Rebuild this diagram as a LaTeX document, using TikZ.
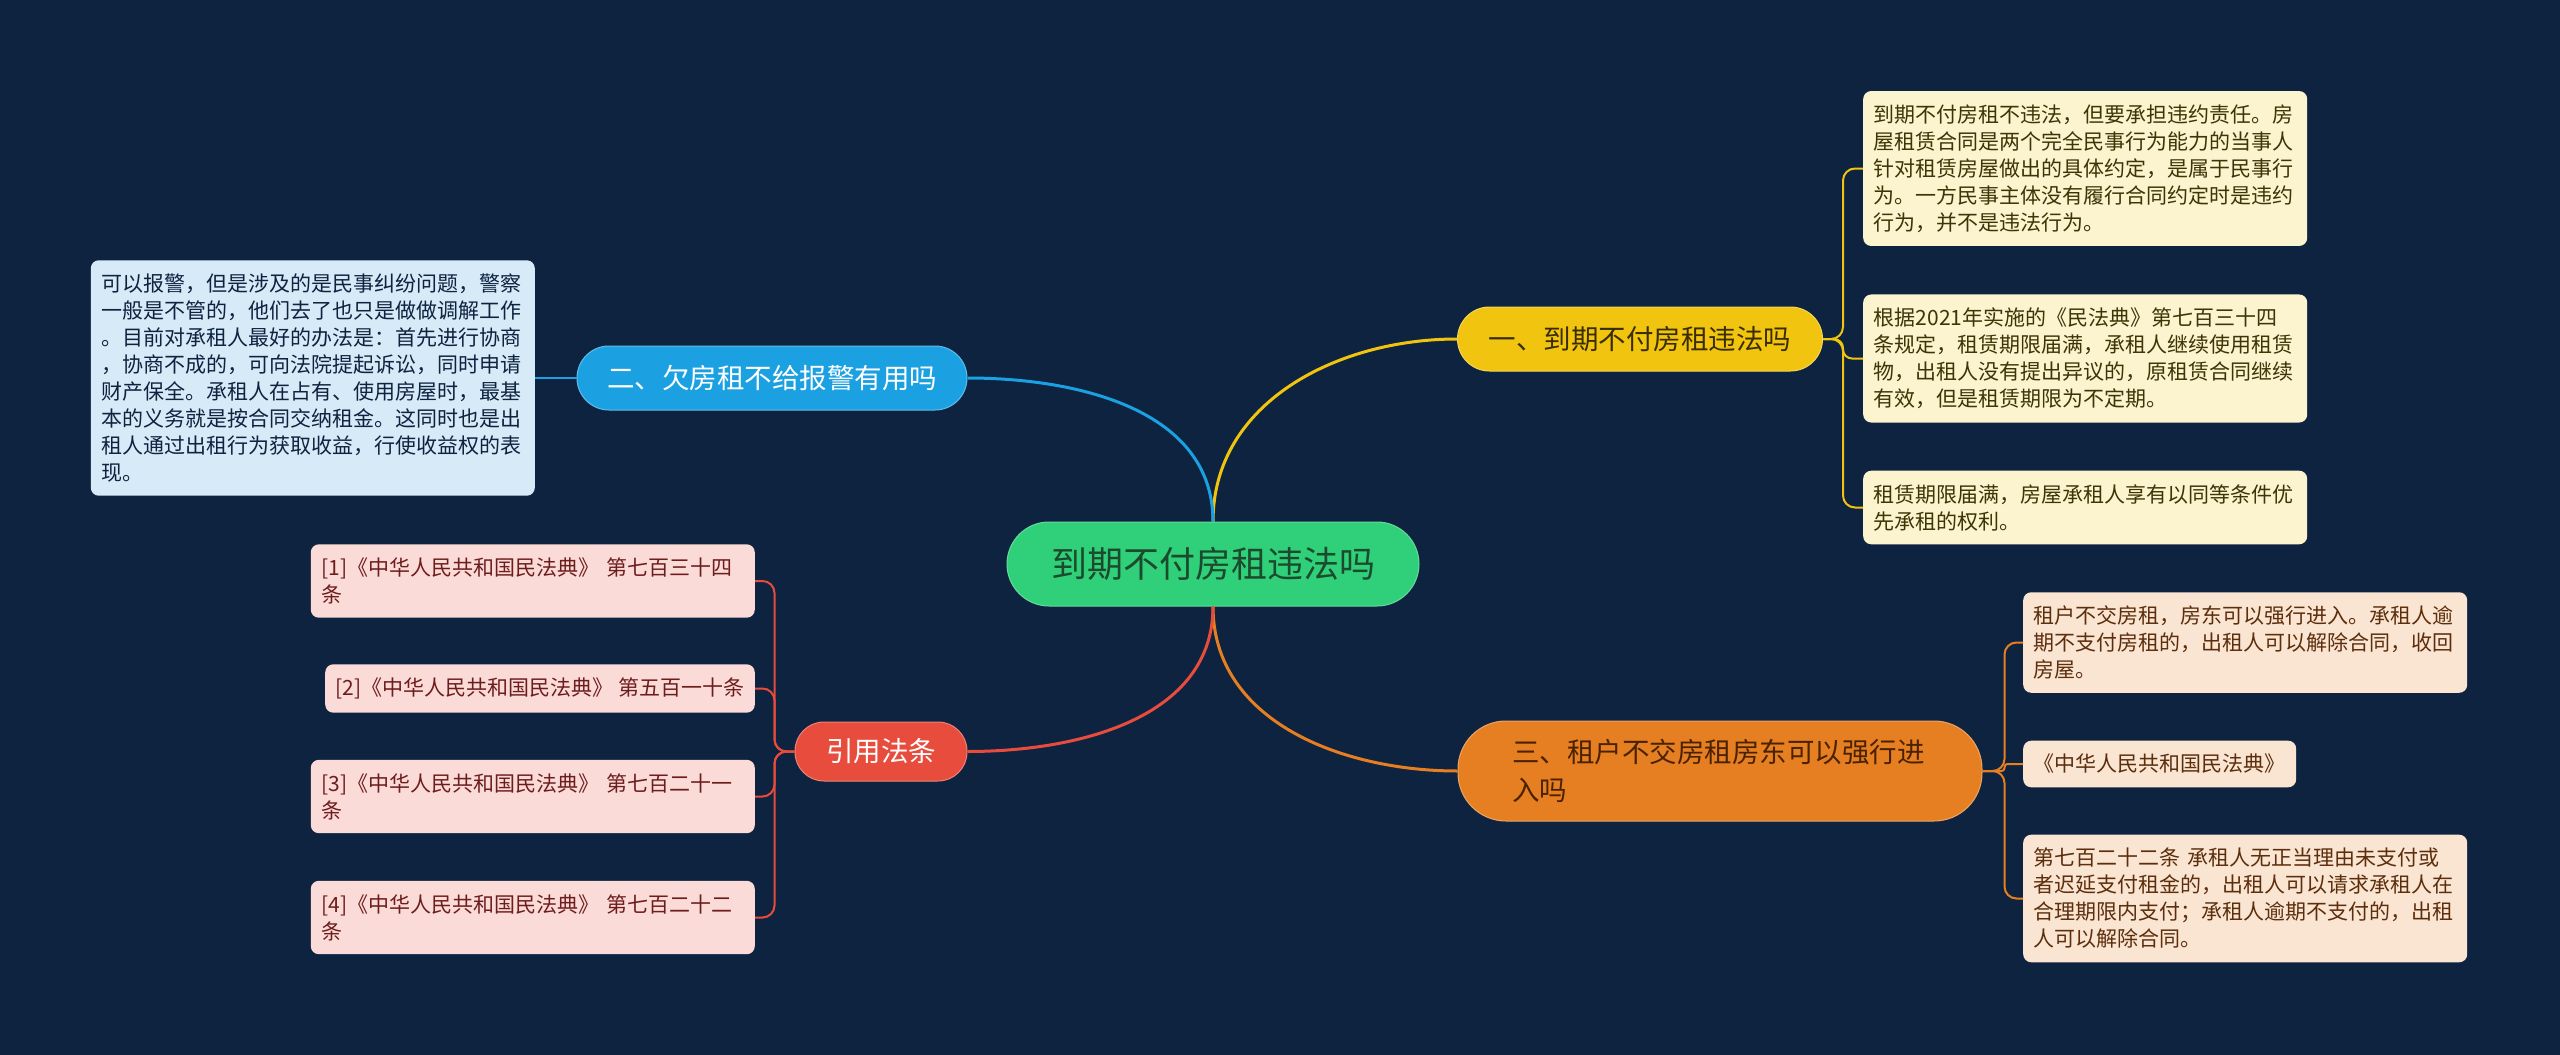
\documentclass[tikz,border=0pt]{standalone}
\usepackage{fontspec}
\setmainfont{Noto Sans CJK SC}
\usetikzlibrary{positioning}
\definecolor{bgnavy}{HTML}{0E2340}
\definecolor{rootgreen}{HTML}{30D07A}
\definecolor{rootink}{HTML}{1B4A2C}
\definecolor{ylw}{HTML}{F1C40F}
\definecolor{ylwink}{HTML}{3A2E00}
\definecolor{ylwpale}{HTML}{FCF3CF}
\definecolor{ylwtext}{HTML}{3D3505}
\definecolor{blu}{HTML}{1BA1E2}
\definecolor{blupale}{HTML}{D6EAF8}
\definecolor{blutext}{HTML}{0E2340}
\definecolor{rd}{HTML}{E74C3C}
\definecolor{rdpale}{HTML}{FADBD8}
\definecolor{rdtext}{HTML}{6E1D1D}
\definecolor{org}{HTML}{E67E22}
\definecolor{orgink}{HTML}{4A2200}
\definecolor{orgpale}{HTML}{FAE5D3}
\definecolor{orgtext}{HTML}{5C2E0C}

\begin{document}
\begin{tikzpicture}[x=1pt,y=-1pt,
  root/.style={fill=rootgreen,draw=rootgreen!75!white,line width=1pt,
    rounded corners=42pt,minimum width=412pt,minimum height=84pt,
    text=rootink,font=\fontsize{36}{44}\selectfont},
  branch/.style={line width=1pt,rounded corners=32pt,minimum height=64pt,
    font=\fontsize{27.5}{38}\selectfont},
  leaf/.style={rounded corners=8pt,align=left,inner xsep=10.5pt,
    inner ysep=13.5pt,font=\fontsize{21}{27}\selectfont},
  wrap/.style={text width=423pt},
  trunk/.style={line width=3pt},
  twig/.style={line width=2pt,rounded corners=12pt}]
\useasboundingbox (0,0) rectangle (2560,1055);
\fill[bgnavy] (0,0) rectangle (2560,1055);
% centre and main branches
\node[root] (c) at (1213,564) {到期不付房租违法吗};
\node[branch,fill=ylw,draw=ylw!70!white,text=ylwink,minimum width=365pt]
  (b1) at (1640,339) {一、到期不付房租违法吗};
\node[branch,fill=blu,draw=blu!70!white,text=white,minimum width=390pt]
  (b2) at (772,378) {二、欠房租不给报警有用吗};
\node[branch,fill=org,draw=org!70!white,text=orgink,minimum width=524pt,
  minimum height=100pt,rounded corners=48pt,text width=416pt,align=left]
  (b3) at (1720,771) {三、租户不交房租房东可以强行进\\入吗};
\node[branch,fill=rd,draw=rd!70!white,text=white,minimum width=172pt,
  minimum height=59pt,rounded corners=29pt]
  (b4) at (881,751.5) {引用法条};
% leaves of branch one
\node[leaf,wrap,fill=ylwpale,text=ylwtext,anchor=west] (y1) at (1863,168.5)
  {到期不付房租不违法，但要承担违约责任。房\\
   屋租赁合同是两个完全民事行为能力的当事人\\
   针对租赁房屋做出的具体约定，是属于民事行\\
   为。一方民事主体没有履行合同约定时是违约\\
   行为，并不是违法行为。};
\node[leaf,wrap,fill=ylwpale,text=ylwtext,anchor=west] (y2) at (1863,358.5)
  {根据2021年实施的《民法典》第七百三十四\\
   条规定，租赁期限届满，承租人继续使用租赁\\
   物，出租人没有提出异议的，原租赁合同继续\\
   有效，但是租赁期限为不定期。};
\node[leaf,wrap,fill=ylwpale,text=ylwtext,anchor=west] (y3) at (1863,507.5)
  {租赁期限届满，房屋承租人享有以同等条件优\\
   先承租的权利。};
% leaf of branch two
\node[leaf,wrap,fill=blupale,text=blutext,anchor=east] (u1) at (535,378)
  {可以报警，但是涉及的是民事纠纷问题，警察\\
   一般是不管的，他们去了也只是做做调解工作\\
   。目前对承租人最好的办法是：首先进行协商\\
   ，协商不成的，可向法院提起诉讼，同时申请\\
   财产保全。承租人在占有、使用房屋时，最基\\
   本的义务就是按合同交纳租金。这同时也是出\\
   租人通过出租行为获取收益，行使收益权的表\\
   现。};
% leaves of branch three
\node[leaf,wrap,fill=orgpale,text=orgtext,anchor=west] (o1) at (2023,642.5)
  {租户不交房租，房东可以强行进入。承租人逾\\
   期不支付房租的，出租人可以解除合同，收回\\
   房屋。};
\node[leaf,fill=orgpale,text=orgtext,anchor=west] (o2) at (2023,764)
  {《中华人民共和国民法典》};
\node[leaf,wrap,fill=orgpale,text=orgtext,anchor=west] (o3) at (2023,898.5)
  {第七百二十二条 承租人无正当理由未支付或\\
   者迟延支付租金的，出租人可以请求承租人在\\
   合理期限内支付；承租人逾期不支付的，出租\\
   人可以解除合同。};
% references
\node[leaf,wrap,fill=rdpale,text=rdtext,anchor=east] (r1) at (755,581)
  {[1]《中华人民共和国民法典》 第七百三十四\\条};
\node[leaf,fill=rdpale,text=rdtext,anchor=east] (r2) at (755,688.5)
  {[2]《中华人民共和国民法典》 第五百一十条};
\node[leaf,wrap,fill=rdpale,text=rdtext,anchor=east] (r3) at (755,796.5)
  {[3]《中华人民共和国民法典》 第七百二十一\\条};
\node[leaf,wrap,fill=rdpale,text=rdtext,anchor=east] (r4) at (755,917.5)
  {[4]《中华人民共和国民法典》 第七百二十二\\条};
% trunk curves
\draw[trunk,ylw] (c.north) to[out=90,in=180] (b1.west);
\draw[trunk,blu] (c.north) to[out=90,in=0] (b2.east);
\draw[trunk,org] (c.south) to[out=-90,in=180] (b3.west);
\draw[trunk,rd] (c.south) to[out=-90,in=0] (b4.east);
% twigs
\coordinate (j1) at ([xshift=20pt]b1.east);
\coordinate (j3) at ([xshift=22pt]b3.east);
\coordinate (j4) at ([xshift=-20pt]b4.west);
\draw[twig,ylw] (b1.east) -- (j1) |- (y1.west);
\draw[twig,ylw,rounded corners=9pt] (b1.east) -- (j1) |- (y2.west);
\draw[twig,ylw] (b1.east) -- (j1) |- (y3.west);
\draw[twig,blu] (b2.west) -- (u1.east);
\draw[twig,org] (b3.east) -- (j3) |- (o1.west);
\draw[twig,org,rounded corners=3pt] (b3.east) -- (j3) |- (o2.west);
\draw[twig,org] (b3.east) -- (j3) |- (o3.west);
\draw[twig,rd] (b4.west) -- (j4) |- (r1.east);
\draw[twig,rd] (b4.west) -- (j4) |- (r2.east);
\draw[twig,rd] (b4.west) -- (j4) |- (r3.east);
\draw[twig,rd] (b4.west) -- (j4) |- (r4.east);
\end{tikzpicture}
\end{document}
